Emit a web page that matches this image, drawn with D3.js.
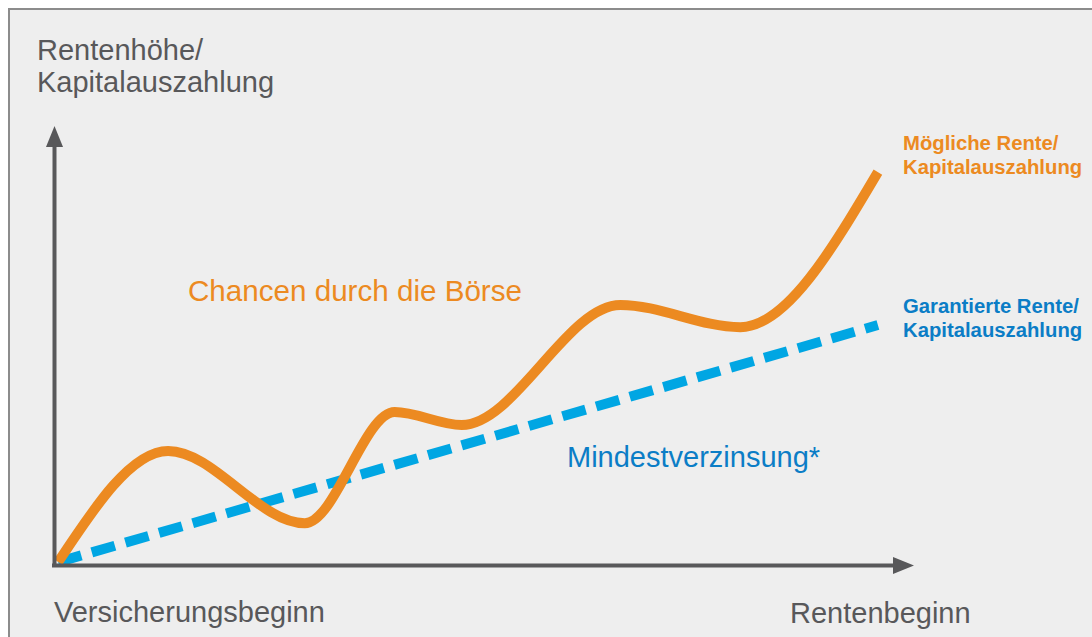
<!DOCTYPE html>
<html>
<head>
<meta charset="utf-8">
<script src="https://cdn.jsdelivr.net/npm/d3@7"></script>
<style>
    body { margin: 0; background: #ffffff; }
    svg { display: block; font-family: "Helvetica Neue", "Liberation Sans", Arial, sans-serif; }
</style>
</head>
<body>
<svg id="chart" width="1092" height="637"></svg>
<script>
// Schematic values (0..100 on both axes)
const chanceX = [0.5, 13.6, 29.9, 40.6, 48.6, 67.5, 81.8, 98.2];
const chanceY = [0.7, 27.3, 10.0, 36.6, 33.5, 62.2, 56.9, 94.0];
const guaranteeX = [0.5, 98.2];
const guaranteeY = [0.7, 57.4];

const yTitle = ["Rentenhöhe/", "Kapitalauszahlung"];
const xStartLabel = "Versicherungsbeginn";
const xEndLabel = "Rentenbeginn";
const chanceLabel = "Chancen durch die Börse";
const guaranteeLabel = "Mindestverzinsung*";
const chanceLegend = ["Mögliche Rente/", "Kapitalauszahlung"];
const guaranteeLegend = ["Garantierte Rente/", "Kapitalauszahlung"];

const ORANGE = "#ec8a21";
const BLUE_LINE = "#00a6e3";
const BLUE_TEXT = "#0b7dc6";
const GREY = "#58585a";

const svg = d3.select("#chart");

// frame
svg.append("rect")
    .attr("x", 9).attr("y", 9)
    .attr("width", 1100).attr("height", 640)
    .attr("fill", "#eeeeee")
    .attr("stroke", "#8c8c8c")
    .attr("stroke-width", 2);

// scales
const xScale = d3.scaleLinear().domain([0, 100]).range([54, 893]);
const yScale = d3.scaleLinear().domain([0, 100]).range([565, 147]);

// arrow head
svg.append("defs").append("marker")
    .attr("id", "arrow")
    .attr("viewBox", "0 0 21 17")
    .attr("refX", 0).attr("refY", 8.5)
    .attr("markerWidth", 21).attr("markerHeight", 17)
    .attr("markerUnits", "userSpaceOnUse")
    .attr("orient", "auto")
    .append("path")
    .attr("d", "M0,0L21,8.5L0,17Z")
    .attr("fill", GREY);

// axes without ticks
const xAxis = d3.axisBottom(xScale).ticks(0).tickSizeOuter(0);
const yAxis = d3.axisLeft(yScale).ticks(0).tickSizeOuter(0);

// lines
const line = d3.line()
    .x(d => xScale(d[0]))
    .y(d => yScale(d[1]));

svg.append("path")
    .datum(guaranteeX.map((x, i) => [x, guaranteeY[i]]))
    .attr("d", line)
    .attr("fill", "none")
    .attr("stroke", BLUE_LINE)
    .attr("stroke-width", 10)
    .attr("stroke-dasharray", "24,11");

svg.append("path")
    .datum(chanceX.map((x, i) => [x, chanceY[i]]))
    .attr("d", line.curve(d3.curveMonotoneX))
    .attr("fill", "none")
    .attr("stroke", ORANGE)
    .attr("stroke-width", 10)
    .attr("stroke-linecap", "butt");

const xAxisG = svg.append("g")
    .attr("transform", `translate(0,${yScale(0)})`)
    .call(xAxis);
const yAxisG = svg.append("g")
    .attr("transform", `translate(${xScale(0)},0)`)
    .call(yAxis);

[xAxisG, yAxisG].forEach(g => {
    g.select(".domain")
        .attr("stroke", GREY)
        .attr("stroke-width", 4)
        .attr("marker-end", "url(#arrow)");
});
// axis path starts at the corner; extend it a bit so the corner is closed
xAxisG.select(".domain").attr("d", `M${xScale(0) - 2},0.5H${xScale(100)}`);
yAxisG.select(".domain").attr("d", `M0.5,${yScale(0) + 2}V${yScale(100)}`);

// texts
const addText = (lines, x, y, dy, size, color, weight) => {
    const t = svg.append("text")
        .attr("x", x).attr("y", y)
        .attr("fill", color)
        .attr("font-size", size)
        .attr("font-weight", weight || "normal");
    lines.forEach((s, i) => {
        t.append("tspan").attr("x", x).attr("y", y + i * dy).text(s);
    });
};

addText(yTitle, 37, 60, 32, 29, GREY);
addText([xStartLabel], 54, 622, 0, 29, GREY);
addText([xEndLabel], 790, 623, 0, 29, GREY);
addText([chanceLabel], 188, 301, 0, 29.6, ORANGE);
addText([guaranteeLabel], 567, 467, 0, 29, BLUE_TEXT);
addText(chanceLegend, 903, 150, 24, 20.3, ORANGE, "bold");
addText(guaranteeLegend, 903, 313, 24, 20.3, BLUE_TEXT, "bold");
</script>
</body>
</html>
